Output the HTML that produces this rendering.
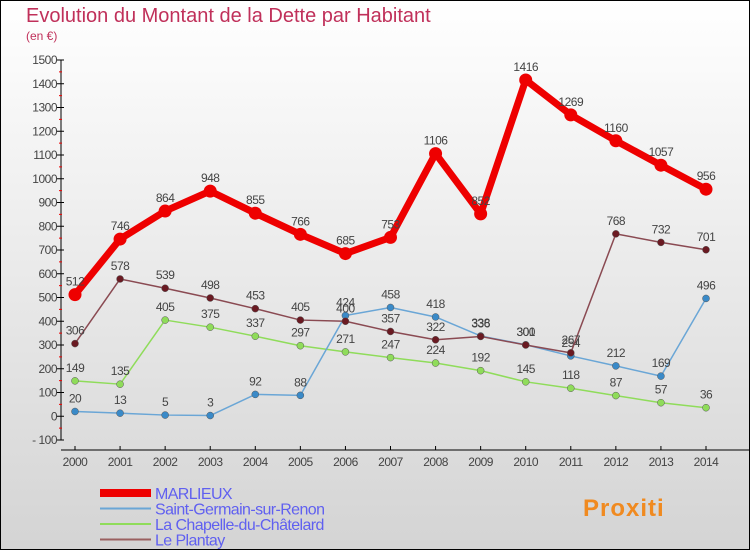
<!DOCTYPE html>
<html><head><meta charset="utf-8"><style>
body{margin:0}
#c{width:750px;height:550px;position:relative;box-sizing:border-box;border:1px solid #000;background:linear-gradient(#fff,#d4d4d4);font-family:"Liberation Sans",sans-serif;overflow:hidden}
</style></head><body>
<div id="c">
<svg id="s" width="750" height="550" style="position:absolute;left:-1px;top:-1px"></svg>
</div>
<script>
const years=["2000","2001","2002","2003","2004","2005","2006","2007","2008","2009","2010","2011","2012","2013","2014"];
const yTicks=[-100,0,100,200,300,400,500,600,700,800,900,1000,1100,1200,1300,1400,1500];
const marlieux=[512,746,864,948,855,766,685,753,1106,852,1416,1269,1160,1057,956];
const saintGermain=[20,13,5,3,92,88,424,458,418,338,301,254,212,169,496];
const chapelle=[149,135,405,375,337,297,271,247,224,192,145,118,87,57,36];
const plantay=[306,578,539,498,453,405,400,357,322,336,300,267,768,732,701];
const seriesNames=["MARLIEUX","Saint-Germain-sur-Renon","La Chapelle-du-Châtelard","Le Plantay"];
const NS="http://www.w3.org/2000/svg",svg=document.getElementById('s');
function X(i){return 75+i*(706-75)/14}
function Y(v){return 416.25-v*0.2375}
function el(t,a,p){const e=document.createElementNS(NS,t);for(const k in a)e.setAttribute(k,a[k]);(p||svg).appendChild(e);return e}
function txt(x,y,s,a){const e=el('text',Object.assign({x:x,y:y},a));e.textContent=s;return e}
const t1=txt(26,22,"Evolution du Montant de la Dette par Habitant",{fill:"#c0305a","font-size":"20"});

const t2=txt(26,40,"(en €)",{fill:"#c0305a","font-size":"12"});

const ya=el('line',{x1:61,y1:60,x2:61,y2:440,stroke:"#000"});

yTicks.forEach((v,i)=>{el('line',{x1:57,y1:Y(v),x2:64,y2:Y(v),stroke:"#000"});
if(i<yTicks.length-1)el('line',{x1:59,y1:Y(v+50),x2:62,y2:Y(v+50),stroke:"#e00"});
const t=txt(57,Y(v)+4,v<0?"- "+(-v):String(v),{"text-anchor":"end","font-size":"12",fill:"#444","letter-spacing":"-0.5"});
});
const xa=el('line',{x1:61,y1:450,x2:750,y2:450,stroke:"#000"});

years.forEach((y,i)=>{el('line',{x1:X(i),y1:446,x2:X(i),y2:450,stroke:"#000"});
const t=txt(X(i),466,y,{"text-anchor":"middle","font-size":"12",fill:"#444","letter-spacing":"-0.5"});
});
function series(d,col,dot,w,r,name){
const g=el('g',{});
el('polyline',{points:d.map((v,i)=>X(i)+','+Y(v)).join(' '),fill:"none",stroke:col,"stroke-width":w,"stroke-linejoin":"round"},g);
d.forEach((v,i)=>{const c=el('circle',{cx:X(i),cy:Y(v),r:r,fill:dot,stroke:w>3?"none":"#555","stroke-width":0.5},g);

const t=txt(X(i),Y(v)-9,String(v),{"text-anchor":"middle","font-size":"12",fill:"#444","letter-spacing":"-0.5"},g);
});}
series(chapelle,"#8fdc5a","#8fdc5a",1.5,3.5,"chapelle");
series(saintGermain,"#6aa6d6","#3a8ac8",1.5,3.5,"saint-germain");
series(plantay,"#8a4a52","#6a1a22",1.5,3.5,"plantay");
series(marlieux,"#ee0000","#ee0000",7,6.5,"marlieux");
const cols=["#ee0000","#6aa6d6","#8fdc5a","#9a6060"],ws=[8,2,2,2];
seriesNames.forEach((n,i)=>{const g=el('g',{});
const y=493+i*15.5;el('line',{x1:100,y1:y,x2:151,y2:y,stroke:cols[i],"stroke-width":ws[i]},g);
txt(155,y+6,n,{"font-size":"16",fill:"#6060f0","letter-spacing":"-0.6"},g);});
const lg=txt(583,516,"Proxiti",{"font-size":"24","font-weight":"bold",fill:"#f08a20","letter-spacing":"1"});

</script>
</body></html>
